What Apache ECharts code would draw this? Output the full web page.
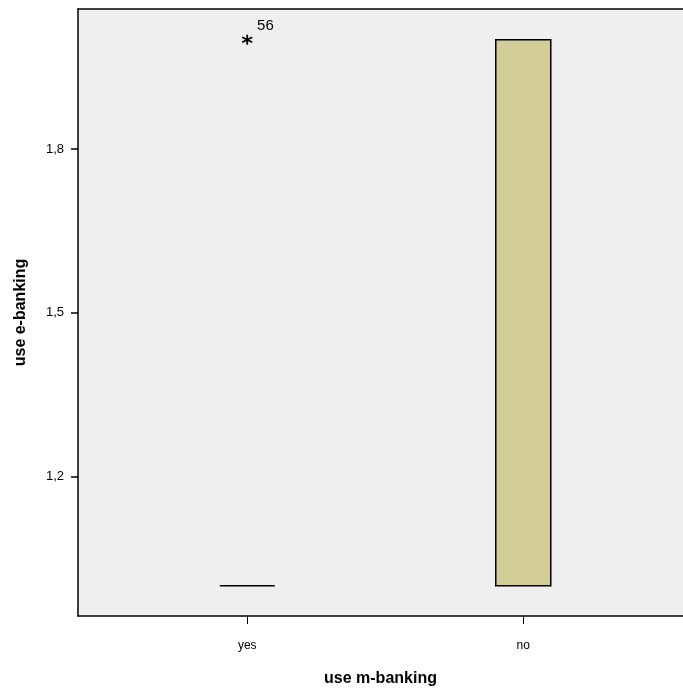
<!DOCTYPE html>
<html>
<head>
<meta charset="utf-8">
<script src="https://cdn.jsdelivr.net/npm/echarts@6/dist/echarts.min.js"></script>
<style>html,body{margin:0;padding:0;background:#fff}#c{width:683px;height:692px}</style>
</head>
<body>
<div id="c"></div>
<script>
var categories = ['yes', 'no'];
// [min, Q1, median, Q3, max]
var boxYes = [1, 1, 1, 1, 1];
var boxNo = [1, 1, 1, 2, 2];
var outlierCategory = ['yes'];
var outlierValues = [2];
var outlierLabels = ['56'];
var yTicks = [1.2, 1.5, 1.8];

var boxes = [boxYes, boxNo];
var boxData = boxes.map(function (b, i) { return [i].concat(b); });
var outlierData = outlierValues.map(function (v, i) {
  return { value: [categories.indexOf(outlierCategory[i]), v], name: outlierLabels[i] };
});
var catIdx = categories.map(function (c, i) { return i; });

var chart = echarts.init(document.getElementById('c'));
var font = 'Liberation Sans, Arial, sans-serif';
var xMin = -0.613, xMax = 1.5786;
chart.setOption({
  animation: false,
  backgroundColor: '#ffffff',
  grid: {
    left: 78, right: 0, top: 9, bottom: 74.5,
    show: true, backgroundColor: '#efefef', borderWidth: 0
  },
  xAxis: [{
    type: 'value', min: xMin, max: xMax, position: 'bottom',
    name: 'use m-banking', nameLocation: 'middle', nameGap: 55,
    nameTextStyle: { fontFamily: font, fontSize: 16, fontWeight: 'bold', color: '#000' },
    splitLine: { show: false },
    axisLine: { show: true, onZero: false, lineStyle: { color: '#000', width: 1.5 } },
    axisTick: { show: true, length: 8, customValues: catIdx, lineStyle: { color: '#000', width: 1 } },
    axisLabel: {
      customValues: catIdx,
      formatter: function (v) { return categories[Math.round(v)]; },
      margin: 24, fontFamily: font, fontSize: 12, color: '#000'
    }
  }, {
    type: 'value', min: xMin, max: xMax, position: 'top',
    splitLine: { show: false },
    axisLine: { show: true, onZero: false, lineStyle: { color: '#000', width: 1.5 } },
    axisTick: { show: false }, axisLabel: { show: false }
  }],
  yAxis: {
    type: 'value', min: 0.9446, max: 2.0563,
    name: 'use e-banking', nameLocation: 'middle', nameGap: 49,
    nameTextStyle: { fontFamily: font, fontSize: 16, fontWeight: 'bold', color: '#000' },
    splitLine: { show: false },
    axisLine: { show: true, onZero: false, lineStyle: { color: '#000', width: 1.5 } },
    axisTick: { show: true, length: 7, customValues: yTicks, lineStyle: { color: '#000', width: 1.5 } },
    axisLabel: {
      customValues: yTicks,
      formatter: function (v) { return v.toFixed(1).replace('.', ','); },
      margin: 14, fontFamily: font, fontSize: 13, color: '#000'
    }
  },
  series: [
    {
      type: 'boxplot',
      data: boxData,
      boxWidth: [55, 55],
      itemStyle: { color: '#d3ce97', borderColor: '#000', borderWidth: 1.5 }
    },
    {
      type: 'scatter',
      data: outlierData,
      symbol: 'path://M5,0L5,10M0.7,2.5L9.3,7.5M0.7,7.5L9.3,2.5',
      symbolSize: 10,
      itemStyle: { color: 'rgba(0,0,0,0)', borderColor: '#000', borderWidth: 1.8, opacity: 1 },
      label: {
        show: true, formatter: function (p) { return p.name; },
        position: 'right', offset: [-1, -14],
        fontFamily: font, fontSize: 15, color: '#000', opacity: 1
      }
    }
  ]
});
</script>
</body>
</html>
